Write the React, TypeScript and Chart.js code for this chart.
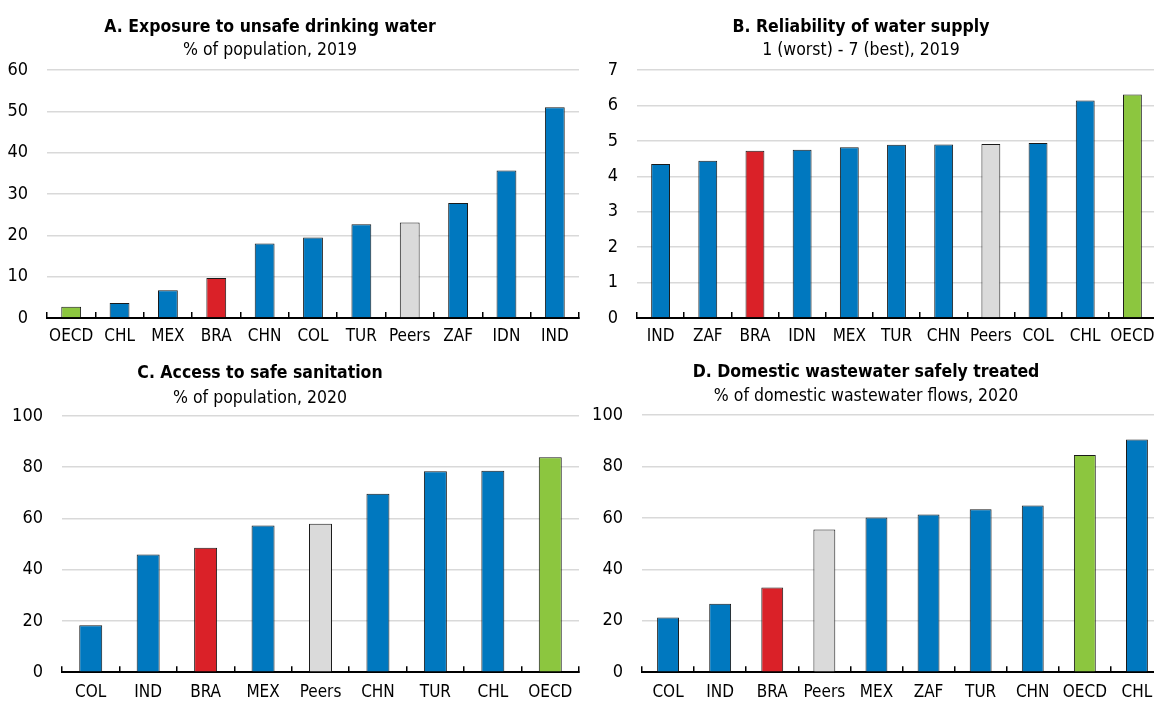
import React, { useEffect, useRef } from "react";
import { Chart, registerables } from "chart.js";

Chart.register(...registerables);

const FONT = "'Liberation Sans Narrow', 'Arial Narrow', 'DejaVu Sans Condensed', sans-serif";

const BLUE = "#0078BF";
const RED = "#DA2128";
const GREY = "#DADADA";
const GREEN = "#8CC63F";

// Panel A
const catsA = ["OECD", "CHL", "MEX", "BRA", "CHN", "COL", "TUR", "Peers", "ZAF", "IDN", "IND"];
const valsA = [2.7, 3.6, 6.7, 9.7, 18.0, 19.5, 22.7, 23.1, 27.8, 35.7, 51.0];

// Panel B
const catsB = ["IND", "ZAF", "BRA", "IDN", "MEX", "TUR", "CHN", "Peers", "COL", "CHL", "OECD"];
const valsB = [4.35, 4.44, 4.72, 4.75, 4.82, 4.89, 4.9, 4.91, 4.94, 6.14, 6.31];

// Panel C
const catsC = ["COL", "IND", "BRA", "MEX", "Peers", "CHN", "TUR", "CHL", "OECD"];
const valsC = [18.3, 45.9, 48.6, 57.3, 57.9, 69.7, 78.4, 78.6, 83.9];

// Panel D
const catsD = ["COL", "IND", "BRA", "Peers", "MEX", "ZAF", "TUR", "CHN", "OECD", "CHL"];
const valsD = [21.3, 26.6, 32.9, 55.5, 60.1, 61.3, 63.4, 64.8, 84.4, 90.5];

const colorFor = (c: string) =>
  c === "BRA" ? RED : c === "Peers" ? GREY : c === "OECD" ? GREEN : BLUE;

const panelTitlePlugin = {
  id: "panelTitle",
  afterDraw(chart: any, _args: any, opts: any) {
    const ctx = chart.ctx;
    ctx.save();
    ctx.fillStyle = "#000";
    ctx.textAlign = "center";
    ctx.textBaseline = "middle";
    ctx.font = `bold ${opts.titleSize}px ${FONT}`;
    ctx.fillText(opts.title, opts.x, opts.titleY);
    ctx.font = `${opts.subSize}px ${FONT}`;
    ctx.fillText(opts.subtitle, opts.x, opts.subY);
    ctx.restore();
  },
};

type PanelProps = {
  left: number;
  top: number;
  width: number;
  height: number;
  cats: string[];
  vals: number[];
  yMax: number;
  yStep: number;
  title: string;
  subtitle: string;
  titleX: number;
  titleY: number;
  subY: number;
  padTop: number;
  padRight: number;
  yW: number;
  xH: number;
  xPad: number;
  barPct: number;
};

function Panel(p: PanelProps) {
  const ref = useRef<HTMLCanvasElement | null>(null);
  useEffect(() => {
    if (!ref.current) return;
    const chart = new Chart(ref.current, {
      type: "bar",
      data: {
        labels: p.cats,
        datasets: [
          {
            data: p.vals,
            backgroundColor: p.cats.map(colorFor),
            borderColor: "#1a1a1a",
            borderWidth: 1,
            barPercentage: p.barPct,
            categoryPercentage: 1,
          },
        ],
      },
      options: {
        responsive: false,
        animation: false,
        layout: { padding: { top: p.padTop, right: p.padRight, bottom: 0, left: 0 } },
        plugins: {
          legend: { display: false },
          tooltip: { enabled: false },
          title: { display: false },
          panelTitle: {
            title: p.title,
            subtitle: p.subtitle,
            x: p.titleX,
            titleY: p.titleY,
            subY: p.subY,
            titleSize: 17.5,
            subSize: 17.5,
          },
        } as any,
        scales: {
          x: {
            grid: {
              display: true,
              drawOnChartArea: false,
              drawTicks: true,
              tickLength: -6,
              color: "#000",
              lineWidth: 1.5,
              offset: true,
            },
            border: { display: true, color: "#000", width: 2 },
            ticks: {
              color: "#000",
              font: { family: FONT, size: 17 },
              padding: p.xPad,
              maxRotation: 0,
              autoSkip: false,
            },
            afterFit: (s: any) => {
              s.height = p.xH;
              s.paddingLeft = 0;
              s.paddingRight = 0;
            },
          },
          y: {
            min: 0,
            max: p.yMax,
            grid: { color: "#d9d9d9", lineWidth: 1.5, drawTicks: false },
            border: { display: false },
            ticks: {
              stepSize: p.yStep,
              color: "#000",
              font: { family: FONT, size: 18 },
              padding: 19,
            },
            afterFit: (s: any) => {
              s.width = p.yW;
            },
          },
        },
      },
      plugins: [panelTitlePlugin],
    });
    return () => chart.destroy();
  }, []);
  return (
    <div style={{ position: "absolute", left: p.left, top: p.top, width: p.width, height: p.height }}>
      <canvas ref={ref} width={p.width} height={p.height} style={{ width: p.width, height: p.height, display: "block" }} />
    </div>
  );
}

export default function App() {
  return (
    <div
      style={{
        position: "fixed",
        left: 0,
        top: 0,
        width: 1154,
        height: 702,
        overflow: "hidden",
        background: "#fff",
      }}
    >
      <Panel
        left={0} top={0} width={580} height={350}
        cats={catsA} vals={valsA} yMax={60} yStep={10}
        title="A. Exposure to unsafe drinking water" subtitle="% of population, 2019"
        titleX={270} titleY={27} subY={50}
        padTop={70} padRight={1} yW={47} xH={32} xPad={14} barPct={0.41}
      />
      <Panel
        left={580} top={0} width={580} height={350}
        cats={catsB} vals={valsB} yMax={7} yStep={1}
        title="B. Reliability of water supply" subtitle="1 (worst) - 7 (best), 2019"
        titleX={281} titleY={27} subY={50}
        padTop={70} padRight={4} yW={57} xH={32} xPad={14} barPct={0.4}
      />
      <Panel
        left={0} top={350} width={580} height={352}
        cats={catsC} vals={valsC} yMax={100} yStep={20}
        title="C. Access to safe sanitation" subtitle="% of population, 2020"
        titleX={260} titleY={23} subY={48}
        padTop={66} padRight={1} yW={62} xH={26} xPad={16} barPct={0.4}
      />
      <Panel
        left={580} top={350} width={590} height={352}
        cats={catsD} vals={valsD} yMax={100} yStep={20}
        title="D. Domestic wastewater safely treated" subtitle="% of domestic wastewater flows, 2020"
        titleX={286} titleY={22} subY={46}
        padTop={65} padRight={7} yW={62} xH={27} xPad={16} barPct={0.42}
      />
    </div>
  );
}
